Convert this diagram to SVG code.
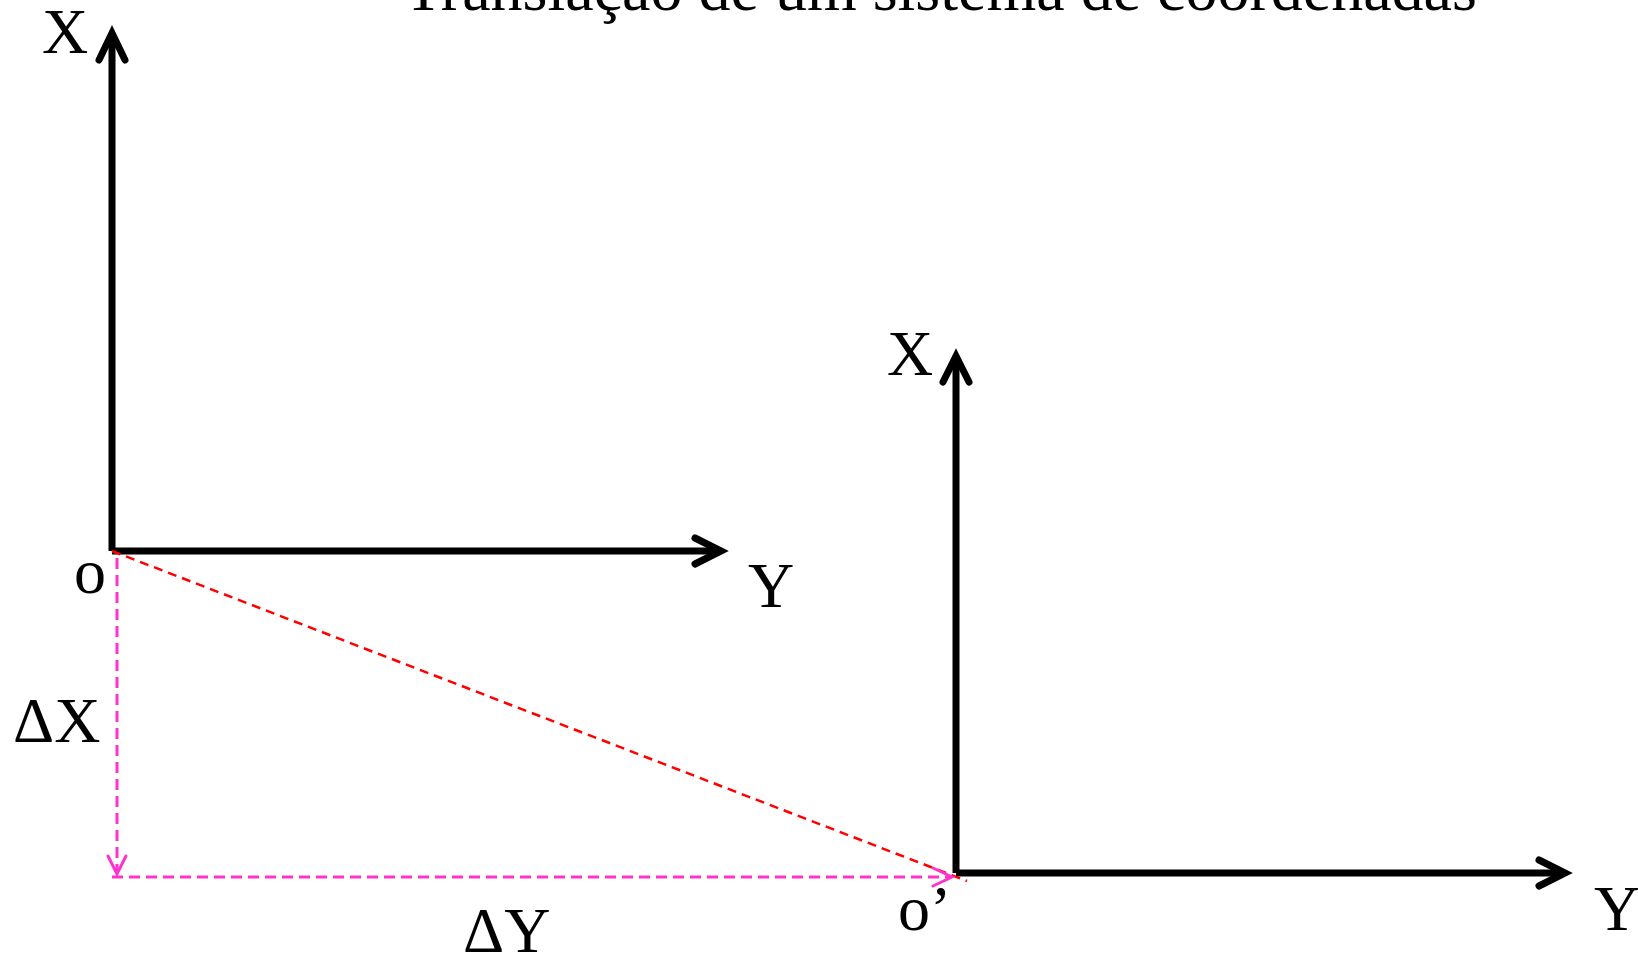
<svg xmlns="http://www.w3.org/2000/svg" width="1638" height="957" viewBox="0 0 1638 957">
<style>
  text { font-family: "Liberation Serif", "Times New Roman", serif; font-size: 64px; fill: #000; }
  .axis { stroke: #000; stroke-width: 7; fill: none; stroke-linecap: butt; }
  .head { stroke: #000; stroke-width: 7; fill: none; stroke-linecap: round; stroke-linejoin: miter; stroke-miterlimit: 10; }
  .red { stroke: #ff0000; stroke-width: 2.5; fill: none; stroke-dasharray: 9 6; }
  .mag { stroke: #ff33cc; stroke-width: 3; fill: none; stroke-dasharray: 11 6; }
  .maghead { stroke: #ff33cc; stroke-width: 3; fill: none; stroke-linecap: round; stroke-linejoin: miter; }
</style>
<rect width="1638" height="957" fill="#ffffff"/>
<g id="title">
  <text x="404" y="10" font-size="62.7">Translação de um sistema de coordenadas</text>
</g>
<g id="system1">
  <line class="axis" x1="112" y1="551" x2="112" y2="36"/>
  <polyline class="head" points="99,60 112,33 125,60"/>
  <line class="axis" x1="112" y1="551" x2="717" y2="551"/>
  <polyline class="head" points="695,538 721,551 695,564"/>
  <text x="42" y="53">X</text>
  <text x="748" y="607">Y</text>
  <text x="74" y="593">o</text>
</g>
<g id="system2">
  <line class="axis" x1="956" y1="873" x2="956" y2="360"/>
  <polyline class="head" points="943,382 956,356 969,382"/>
  <line class="axis" x1="956" y1="873" x2="1561" y2="873"/>
  <polyline class="head" points="1539,860 1565,873 1539,886"/>
  <text x="887" y="375">X</text>
  <text x="1594" y="930">Y</text>
  <text x="898" y="930">o’</text>
</g>
<g id="connectors">
  <line class="red" x1="112" y1="551" x2="967" y2="881"/>
  <line class="mag" x1="117" y1="558" x2="117" y2="872"/>
  <polyline class="maghead" points="108,856 117,874 126,856"/>
  <line class="mag" x1="112" y1="877" x2="950" y2="877"/>
  <polyline class="maghead" points="933,868 952,877 933,886"/>
</g>
<g id="labels">
  <text x="13" y="742">ΔX</text>
  <text x="463" y="952">ΔY</text>
</g>
</svg>
